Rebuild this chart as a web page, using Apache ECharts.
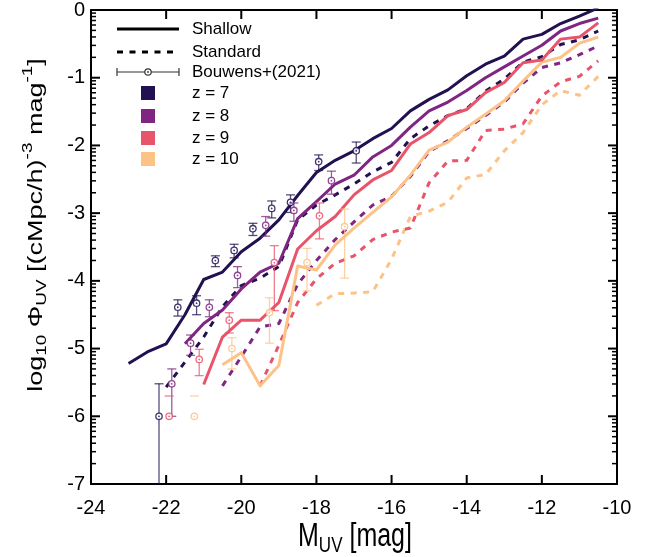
<!DOCTYPE html>
<html><head><meta charset="utf-8">
<script src="https://cdn.jsdelivr.net/npm/echarts@6/dist/echarts.min.js"></script>
<style>html,body{margin:0;padding:0;background:#fff}#c{width:657px;height:557px}</style>
</head><body><div id="c"></div>
<script>
// ---------------- data ----------------
const mags = [-23,-22.5,-22,-21.5,-21,-20.5,-20,-19.5,-19,-18.5,-18,-17.5,-17,-16.5,-16,-15.5,-15,-14.5,-14,-13.5,-13,-12.5,-12,-11.5,-11,-10.5];

const shallowZ7 = [-5.22,-5.05,-4.93,-4.50,-3.98,-3.87,-3.57,-3.37,-3.10,-2.74,-2.40,-2.22,-2.08,-1.90,-1.75,-1.49,-1.32,-1.18,-0.97,-0.80,-0.68,-0.43,-0.36,-0.20,-0.09,0.03];
const shallowZ8 = [null,null,null,-4.93,-4.63,-4.43,-4.12,-3.87,-3.74,-3.08,-2.83,-2.57,-2.44,-2.17,-2.00,-1.73,-1.49,-1.36,-1.19,-1.00,-0.84,-0.68,-0.52,-0.31,-0.20,-0.12];
const shallowZ9 = [null,null,null,null,-5.53,-4.83,-4.58,-4.58,-4.32,-3.53,-3.26,-3.05,-2.73,-2.51,-2.37,-1.98,-1.81,-1.56,-1.47,-1.22,-1.07,-0.78,-0.74,-0.43,-0.40,-0.19];
const shallowZ10 = [null,null,null,null,null,-5.24,-5.06,-5.55,-5.25,-3.78,-3.84,-3.47,-3.22,-2.99,-2.76,-2.44,-2.07,-1.95,-1.73,-1.54,-1.34,-1.05,-0.77,-0.70,-0.49,-0.40];

const standardZ7 = [null,null,-5.57,-5.20,-4.83,-4.38,-4.07,-3.96,-3.79,-3.10,-2.88,-2.73,-2.57,-2.39,-2.25,-1.90,-1.71,-1.56,-1.46,-1.20,-1.02,-0.77,-0.69,-0.51,-0.44,-0.31];
const standardZ8 = [null,null,null,null,null,-5.55,-5.12,-4.68,-4.63,-4.05,-3.70,-3.39,-3.13,-2.88,-2.75,-2.46,-2.09,-1.93,-1.75,-1.56,-1.36,-1.08,-0.85,-0.78,-0.66,-0.53];
const standardZ9 = [null,null,null,null,null,null,null,-5.55,-4.95,-4.32,-3.97,-3.74,-3.63,-3.39,-3.28,-3.22,-2.55,-2.23,-2.22,-1.78,-1.76,-1.68,-1.27,-1.06,-0.98,-0.75];
const standardZ10 = [null,null,null,null,null,null,null,null,null,null,-4.36,-4.19,-4.18,-4.16,-3.68,-3.05,-2.97,-2.84,-2.48,-2.43,-2.08,-1.81,-1.40,-1.19,-1.26,-0.98];

// Bouwens+(2021) points: magnitude, log phi, upper and lower ends of error bars
const bouwensZ7M   = [-22.19,-21.69,-21.19,-20.69,-20.19,-19.69,-19.19,-18.69,-17.94,-16.94];
const bouwensZ7Phi = [-6.00,-4.39,-4.33,-3.70,-3.55,-3.23,-2.93,-2.84,-2.24,-2.08];
const bouwensZ7Hi  = [-5.52,-4.28,-4.22,-3.63,-3.46,-3.15,-2.82,-2.73,-2.14,-1.95];
const bouwensZ7Lo  = [-7.00,-4.52,-4.50,-3.79,-3.66,-3.33,-3.07,-2.99,-2.37,-2.26];

const bouwensZ8M   = [-21.85,-21.35,-20.85,-20.10,-19.35,-18.60,-17.60];
const bouwensZ8Phi = [-5.52,-4.92,-4.39,-3.92,-3.18,-2.96,-2.52];
const bouwensZ8Hi  = [-5.30,-4.80,-4.28,-3.79,-3.05,-2.85,-2.38];
const bouwensZ8Lo  = [-6.00,-5.10,-4.53,-4.10,-3.34,-3.12,-2.72];

const bouwensZ9M   = [-21.92,-21.12,-20.32,-19.12,-17.92];
const bouwensZ9Phi = [-6.00,-5.16,-4.58,-3.73,-3.04];
const bouwensZ9Hi  = [-5.70,-5.01,-4.47,-3.48,-2.85];
const bouwensZ9Lo  = [null,-5.40,-4.77,-4.44,-3.38];

const bouwensZ10M   = [-21.25,-20.25,-19.25,-18.25,-17.25];
const bouwensZ10Phi = [-6.00,-5.00,-4.47,-3.73,-3.20];
const bouwensZ10Hi  = [-5.70,-4.84,-4.25,-3.52,-2.94];
const bouwensZ10Lo  = [null,-5.30,-4.92,-4.15,-3.96];

const xTicks = [-24,-22,-20,-18,-16,-14,-12,-10];
const yTicks = [-7,-6,-5,-4,-3,-2,-1,0];
const legendLabels = ['Shallow','Standard','Bouwens+(2021)','z = 7','z = 8','z = 9','z = 10'];

// ---------------- styling ----------------
const FONT = '"Liberation Sans", Arial, Helvetica, sans-serif';
const C7 = '#221150', C8 = '#7f2582', C9 = '#e8546a', C10 = '#fdc286';
const X0 = -24, X1 = -10, Y0 = -7, Y1 = 0;

// log-style minor ticks between integer decades (decorative)
const minorTicks = [];
for (let d = -7; d < 0; d++) for (let k = 2; k <= 9; k++) minorTicks.push(d + Math.log10(k));

function pairs(arr){ return mags.map((m,i)=>[m, arr[i]]).filter(p=>p[1]!==null); }

function lineSeries(name, arr, color, dashed){
  return {
    type:'line', name, data: pairs(arr), showSymbol:false, symbol:'none',
    xAxisIndex:0, yAxisIndex:0, silent:true, animation:false, clip:true,
    lineStyle:{color, width:3, type: dashed ? [6,6.5] : 'solid', cap:'butt', join:'round'},
    itemStyle:{color}, z: dashed ? 2 : 3
  };
}

function errSeries(name, M, phi, hi, lo, color){
  return {
    type:'custom', name, xAxisIndex:0, yAxisIndex:0, silent:true, animation:false, z:5, clip:false,
    data: M.map((m,i)=>[m, phi[i]]),
    renderItem: function(params, api){
      const i = params.dataIndex;
      const c = api.coord([M[i], phi[i]]);
      const r = 3.2, cap = 4.5;
      const st = {stroke: color, lineWidth: 1.3, opacity: 0.75};
      const ch = [];
      const h = api.coord([M[i], hi[i]])[1];
      ch.push({type:'line', shape:{x1:c[0]-cap, y1:h, x2:c[0]+cap, y2:h}, style:st});
      if (lo[i] !== null) {
        const l = api.coord([M[i], lo[i]])[1];
        ch.push({type:'line', shape:{x1:c[0], y1:h, x2:c[0], y2:c[1]-r}, style:st});
        ch.push({type:'line', shape:{x1:c[0], y1:c[1]+r, x2:c[0], y2:l}, style:st});
        if (lo[i] > -7) ch.push({type:'line', shape:{x1:c[0]-cap, y1:l, x2:c[0]+cap, y2:l}, style:st});
      }
      ch.push({type:'circle', shape:{cx:c[0], cy:c[1], r:r}, style:{stroke:color, lineWidth:1.3, fill:'#fff', opacity:0.85}});
      ch.push({type:'circle', shape:{cx:c[0], cy:c[1], r:0.9}, style:{fill:color, opacity:0.85}});
      return {type:'group', children: ch};
    }
  };
}

// frame ticks (all inward), placed through the axis scales
function yTickSeries(name, values, len, width){
  return {
    type:'custom', name, xAxisIndex:0, yAxisIndex:0, silent:true, animation:false, z:10, clip:false,
    data: values.map(v=>[X0, v]),
    renderItem: function(params, api){
      const v = api.value(1);
      const L = api.coord([X0, v]), R = api.coord([X1, v]);
      const st = {stroke:'#000', lineWidth:width};
      return {type:'group', children:[
        {type:'line', shape:{x1:L[0], y1:L[1], x2:L[0]+len, y2:L[1]}, style:st},
        {type:'line', shape:{x1:R[0]-len, y1:R[1], x2:R[0], y2:R[1]}, style:st}
      ]};
    }
  };
}
function xTickSeries(name, values, len, width){
  return {
    type:'custom', name, xAxisIndex:0, yAxisIndex:0, silent:true, animation:false, z:10, clip:false,
    data: values.map(v=>[v, Y0]),
    renderItem: function(params, api){
      const v = api.value(0);
      const B = api.coord([v, Y0]), T = api.coord([v, Y1]);
      const st = {stroke:'#000', lineWidth:width};
      return {type:'group', children:[
        {type:'line', shape:{x1:B[0], y1:B[1], x2:B[0], y2:B[1]-len}, style:st},
        {type:'line', shape:{x1:T[0], y1:T[1], x2:T[0], y2:T[1]+len}, style:st}
      ]};
    }
  };
}

// text measurement for composed titles
const mctx = document.createElement('canvas').getContext('2d');
function tw(t, size){ mctx.font = size + 'px ' + FONT; return mctx.measureText(t).width; }
function composeText(pieces){
  let W = 0; pieces.forEach(p=>{ W += tw(p[0], p[1]); });
  let x = -W/2; const out = [];
  pieces.forEach(p=>{
    out.push({type:'text', x:x, y:p[2], style:{text:p[0], fontSize:p[1], fontFamily:FONT, fill:'#000', align:'left', verticalAlign:'middle'}});
    x += tw(p[0], p[1]);
  });
  return out;
}

const axisLineStyle = {show:true, onZero:false, lineStyle:{color:'#000', width:2}};
const chart = echarts.init(document.getElementById('c'));

const graphics = [];
// legend
const legY = [29,52,72,93,116,138,159];
graphics.push({type:'line', shape:{x1:117,y1:legY[0],x2:179,y2:legY[0]}, style:{stroke:'#000', lineWidth:3}});
graphics.push({type:'line', shape:{x1:117,y1:legY[1],x2:179,y2:legY[1]}, style:{stroke:'#000', lineWidth:3, lineDash:[6,6.5]}});
graphics.push({type:'line', shape:{x1:117,y1:legY[2],x2:179,y2:legY[2]}, style:{stroke:'#333', lineWidth:1.2}});
graphics.push({type:'line', shape:{x1:117,y1:legY[2]-4,x2:117,y2:legY[2]+4}, style:{stroke:'#333', lineWidth:1.2}});
graphics.push({type:'line', shape:{x1:179,y1:legY[2]-4,x2:179,y2:legY[2]+4}, style:{stroke:'#333', lineWidth:1.2}});
graphics.push({type:'circle', shape:{cx:148,cy:legY[2],r:3.2}, style:{stroke:'#333', lineWidth:1.2, fill:'#fff'}});
graphics.push({type:'circle', shape:{cx:148,cy:legY[2],r:0.9}, style:{fill:'#333'}});
[C7,C8,C9,C10].forEach((c,i)=>{
  graphics.push({type:'rect', shape:{x:141, y:legY[3+i]-7, width:14, height:14}, style:{fill:c}});
});
legendLabels.forEach((t,i)=>{
  graphics.push({type:'text', x:192, y:legY[i], style:{text:t, fontSize:17, fontFamily:FONT, fill:'#000', align:'left', verticalAlign:'middle'}});
});
// axis titles
graphics.push({type:'group', x:355, y:537, scaleY:1.3, children: composeText([['M',25,0],['UV',17,7],[' [mag]',25,0]])});
graphics.push({type:'group', x:36, y:225, rotation:Math.PI/2, scaleX:1.35, children: composeText([
  ['log',20,0],['10',14,6],[' \u03A6',20,0],['UV',14,6],[' [(cMpc/h)',20,0],['-3',14,-8],[' mag',20,0],['-1',14,-8],[']',20,0]
])});

const option = {
  backgroundColor:'#fff',
  animation:false,
  grid:{left:91, right:40, top:7, bottom:73, containLabel:false},
  xAxis:[
    {type:'value', position:'bottom', min:X0, max:X1, interval:2,
     axisLine:axisLineStyle, splitLine:{show:false}, axisTick:{show:false},
     axisLabel:{show:true, margin:14, fontSize:20, fontFamily:FONT, color:'#000'}},
    {type:'value', position:'top', min:X0, max:X1, interval:2,
     axisLine:axisLineStyle, splitLine:{show:false}, axisTick:{show:false},
     axisLabel:{show:false}}
  ],
  yAxis:[
    {type:'value', position:'left', min:Y0, max:Y1, interval:1,
     axisLine:axisLineStyle, splitLine:{show:false}, axisTick:{show:false},
     axisLabel:{show:true, margin:6, fontSize:20, fontFamily:FONT, color:'#000'}},
    {type:'value', position:'right', min:Y0, max:Y1, interval:1,
     axisLine:axisLineStyle, splitLine:{show:false}, axisTick:{show:false},
     axisLabel:{show:false}}
  ],
  series:[
    lineSeries('Standard z=10', standardZ10, C10, true),
    lineSeries('Standard z=9', standardZ9, C9, true),
    lineSeries('Standard z=8', standardZ8, C8, true),
    lineSeries('Standard z=7', standardZ7, C7, true),
    lineSeries('Shallow z=10', shallowZ10, C10, false),
    lineSeries('Shallow z=9', shallowZ9, C9, false),
    lineSeries('Shallow z=8', shallowZ8, C8, false),
    lineSeries('Shallow z=7', shallowZ7, C7, false),
    errSeries('Bouwens z=7', bouwensZ7M, bouwensZ7Phi, bouwensZ7Hi, bouwensZ7Lo, C7),
    errSeries('Bouwens z=8', bouwensZ8M, bouwensZ8Phi, bouwensZ8Hi, bouwensZ8Lo, C8),
    errSeries('Bouwens z=9', bouwensZ9M, bouwensZ9Phi, bouwensZ9Hi, bouwensZ9Lo, C9),
    errSeries('Bouwens z=10', bouwensZ10M, bouwensZ10Phi, bouwensZ10Hi, bouwensZ10Lo, C10),
    yTickSeries('y major ticks', yTicks, 9, 2),
    yTickSeries('y minor ticks', minorTicks, 5, 1.5),
    xTickSeries('x major ticks', xTicks, 9, 2)
  ],
  graphic: graphics
};
chart.setOption(option);
</script>
</body></html>
